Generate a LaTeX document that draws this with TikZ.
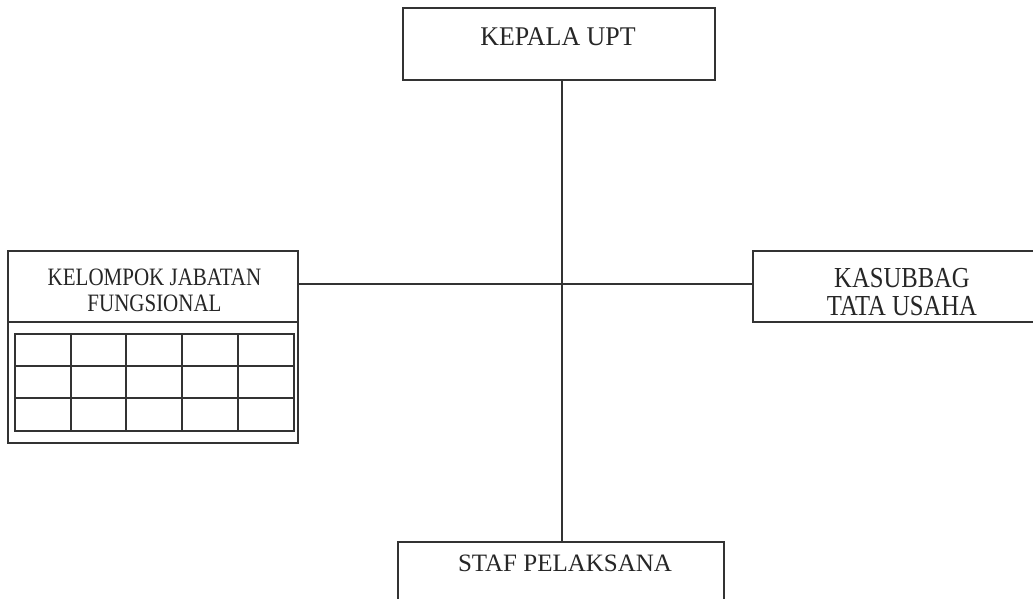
\documentclass[tikz,border=0pt]{standalone}
\usepackage{fontspec}
\setmainfont{Liberation Serif}
\begin{document}
\begin{tikzpicture}[x=1pt,y=-1pt,
  ln/.style={draw=black!80,line width=1.3pt},
  boxnode/.style={ln,rectangle,inner sep=0pt,fill=white},
  txt/.style={anchor=base,inner sep=0pt,text=black!85}]
\useasboundingbox (0,0) rectangle (1033,598);
% boxes
\node[boxnode,minimum width=312pt,minimum height=72pt] (kepala) at (559,44) {};
\node[boxnode,minimum width=326pt,minimum height=80pt] (staf) at (561,582) {};
\node[boxnode,minimum width=298pt,minimum height=71pt] (kasub) at (902,286.5) {};
\node[boxnode,minimum width=290pt,minimum height=192pt] (kjf) at (153,347) {};
% connectors
\coordinate (vx) at (562,0);
\coordinate (hy) at (0,284);
\draw[ln] (kepala.south -| vx) -- (staf.north -| vx);
\draw[ln] (kjf.east |- hy) -- (kasub.west |- hy);
% texts
\node[txt,font=\fontsize{27}{30}\selectfont] (tkepala) at (558,45) {\scalebox{0.96}[1]{KEPALA UPT}};
\node[txt,font=\fontsize{25}{30}\selectfont] (tstaf) at (565,571) {STAF PELAKSANA};
\node[txt,font=\fontsize{29}{30}\selectfont] (tkas1) at (902,287.7) {\scalebox{0.85}[1]{KASUBBAG}};
\node[txt,font=\fontsize{29}{30}\selectfont] (tkas2) at (902,315) {\scalebox{0.85}[1]{TATA USAHA}};
\node[txt,font=\fontsize{25}{30}\selectfont] (tkjf1) at (154.5,285) {\scalebox{0.84}[1]{KELOMPOK JABATAN}};
\node[txt,font=\fontsize{25}{30}\selectfont] (tkjf2) at (154.5,311.7) {\scalebox{0.84}[1]{FUNGSIONAL}};
% header separator and grid in left box
\draw[ln] (kjf.west |- 0,322) -- (kjf.east |- 0,322);
\draw[ln] (15,334) rectangle (294,431);
\foreach \gx in {71,126,182,238} \draw[ln] (\gx,334) -- (\gx,431);
\foreach \gy in {366,398} \draw[ln] (15,\gy) -- (294,\gy);
\end{tikzpicture}
\end{document}
